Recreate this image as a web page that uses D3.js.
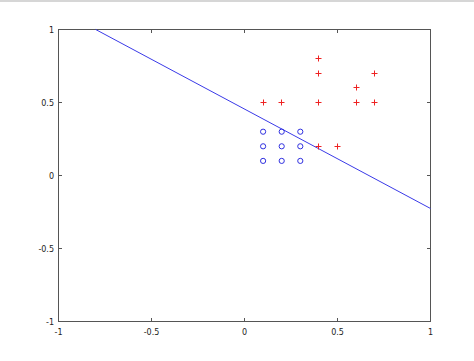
<!DOCTYPE html>
<html><head><meta charset="utf-8">
<script src="https://cdn.jsdelivr.net/npm/d3@7"></script>
<style>body{margin:0;background:#fff;}svg{display:block;}</style>
</head><body>
<script>
const xTicks = [-1, -0.5, 0, 0.5, 1];
const yTicks = [-1, -0.5, 0, 0.5, 1];
const plusX = [0.4, 0.4, 0.7, 0.6, 0.1, 0.2, 0.4, 0.6, 0.7, 0.4, 0.5];
const plusY = [0.8, 0.7, 0.7, 0.6, 0.5, 0.5, 0.5, 0.5, 0.5, 0.2, 0.2];
const circX = [0.1, 0.2, 0.3, 0.1, 0.2, 0.3, 0.1, 0.2, 0.3];
const circY = [0.3, 0.3, 0.3, 0.2, 0.2, 0.2, 0.1, 0.1, 0.1];
const lineX = [-0.8, 1];
const lineY = [1, -0.226];

const W = 474, H = 361;
const svg = d3.select("body").append("svg").attr("width", W).attr("height", H);
svg.append("rect").attr("x",0).attr("y",0).attr("width",W).attr("height",2).attr("fill","#d6d6d6");

const x = d3.scaleLinear().domain([-1,1]).range([58.5,430.5]);
const y = d3.scaleLinear().domain([-1,1]).range([321.5,29.5]);
const fmt = d => d3.format("")(d).replace("−","-");

// ticks inward on all sides
const tk = svg.append("g");
function tline(x1,y1,x2,y2){
  tk.append("line").attr("x1",x1).attr("y1",y1).attr("x2",x2).attr("y2",y2)
    .attr("stroke","#555").attr("stroke-width",1);
}
xTicks.forEach(t=>{
  const px = Math.round(x(t)-0.5)+0.5;
  tline(px, y(-1), px, y(-1)-3.5);
  tline(px, y(1), px, y(1)+3.5);
});
yTicks.forEach(t=>{
  const py = Math.round(y(t)-0.5)+0.5;
  tline(x(-1), py, x(-1)+3.5, py);
  tline(x(1), py, x(1)-3.5, py);
});

svg.append("rect").attr("x",x(-1)).attr("y",y(1)).attr("width",x(1)-x(-1)).attr("height",y(-1)-y(1))
  .attr("fill","none").attr("stroke","#555").attr("stroke-width",1);

const lab = svg.append("g").attr("font-family","DejaVu Sans, Verdana, sans-serif").attr("font-size","8px").attr("fill","#222");
xTicks.forEach(t=>{
  lab.append("text").attr("x",x(t)).attr("y",335).attr("text-anchor","middle").text(fmt(t));
});
yTicks.forEach(t=>{
  lab.append("text").attr("x",54).attr("y",y(t)+3).attr("text-anchor","end").text(fmt(t));
});

// separating line
const lineData = lineX.map((v,i)=>[v,lineY[i]]);
svg.append("path").datum(lineData).attr("d", d3.line().x(d=>x(d[0])).y(d=>y(d[1])))
  .attr("stroke","#3a3ae8").attr("stroke-width",1).attr("fill","none");

// plus markers
const pts = plusX.map((v,i)=>[v,plusY[i]]);
svg.append("g").selectAll("path.plus").data(pts).join("path")
  .attr("class","plus")
  .attr("d", d=>{
    const cx = Math.round(x(d[0])-0.5)+0.5, cy = Math.round(y(d[1])-0.5)+0.5;
    return `M${cx-3},${cy}H${cx+3}M${cx},${cy-3}V${cy+3}`;
  })
  .attr("stroke","#ee2222").attr("stroke-width",1).attr("fill","none");

// circle markers
svg.append("g").selectAll("circle").data(circX).join("circle")
  .attr("cx",(d)=>x(d)).attr("cy",(d,i)=>y(circY[i])).attr("r",2.6)
  .attr("fill","none").attr("stroke","#3030e0").attr("stroke-width",1);
</script>
</body></html>
